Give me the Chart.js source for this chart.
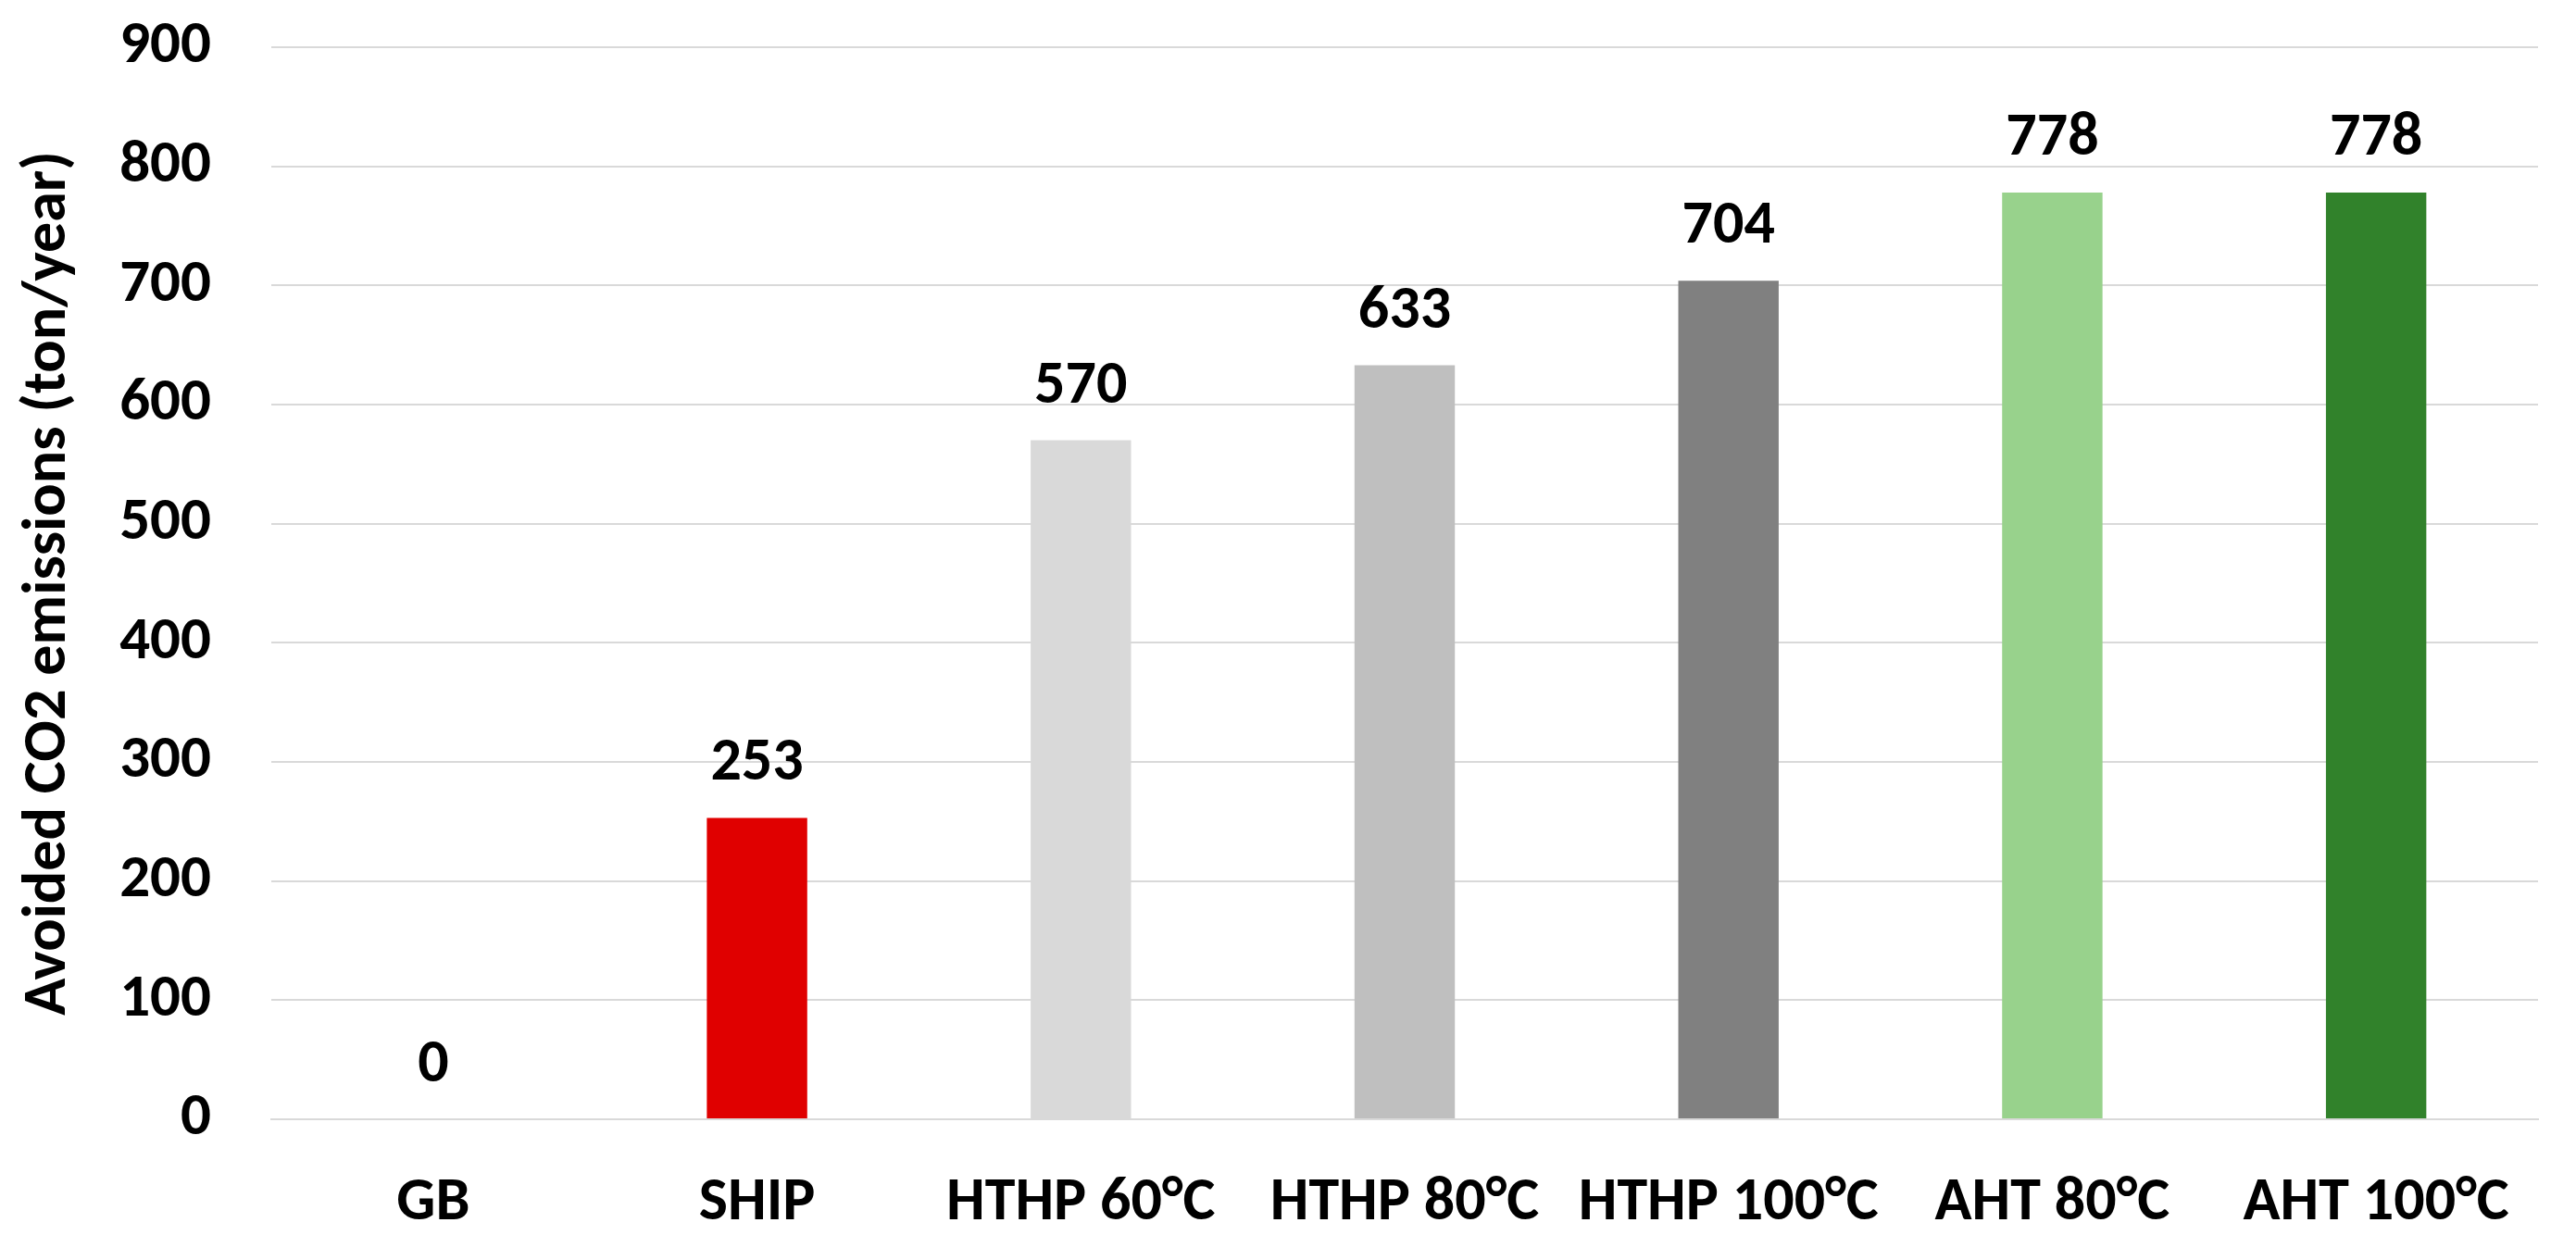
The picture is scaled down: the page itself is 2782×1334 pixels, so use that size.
<!DOCTYPE html>
<html>
<head>
<meta charset="utf-8">
<script src="https://cdn.jsdelivr.net/npm/chart.js@4/dist/chart.umd.min.js"></script>
<style>
  html, body { margin: 0; padding: 0; background: #ffffff; }
  #wrap { width: 2782px; height: 1334px; }
</style>
</head>
<body>
<div id="wrap"><canvas id="c" width="2782" height="1334"></canvas></div>
<script>
const categories = ["GB", "SHIP", "HTHP 60°C", "HTHP 80°C", "HTHP 100°C", "AHT 80°C", "AHT 100°C"];
const values = [0, 253, 570, 633, 704, 778, 778];
const barColors = ["#A6A6A6", "#E00000", "#D9D9D9", "#BFBFBF", "#808080", "#98D28C", "#31822B"];
const yTicks = [0, 100, 200, 300, 400, 500, 600, 700, 800, 900];
const yTitle = "Avoided CO2 emissions (ton/year)";

const fontFam = 'Carlito, "Open Sans", sans-serif';

const valueLabels = {
  id: 'valueLabels',
  afterDatasetsDraw(chart) {
    const ctx = chart.ctx;
    const meta = chart.getDatasetMeta(0);
    ctx.save();
    ctx.font = 'bold 66px ' + fontFam;
    ctx.fillStyle = '#000000';
    ctx.textAlign = 'center';
    ctx.textBaseline = 'alphabetic';
    meta.data.forEach((bar, i) => {
      ctx.fillText(String(values[i]), bar.x, bar.y - 41);
    });
    ctx.restore();
  }
};

new Chart(document.getElementById('c'), {
  type: 'bar',
  data: {
    labels: categories,
    datasets: [{
      data: values,
      backgroundColor: barColors,
      borderWidth: 0,
      categoryPercentage: 1,
      barPercentage: 0.31
    }]
  },
  options: {
    responsive: false,
    animation: false,
    devicePixelRatio: 1,
    layout: { padding: { left: 20, right: 41, top: 51, bottom: 0 } },
    plugins: { legend: { display: false }, tooltip: { enabled: false } },
    scales: {
      x: {
        grid: { display: false, drawTicks: false },
        border: { display: true, color: '#D9D9D9', width: 2 },
        ticks: {
          color: '#000000',
          padding: 52,
          maxRotation: 0,
          autoSkip: false,
          font: { family: fontFam, size: 66, weight: 'bold' }
        },
        afterFit(scale) {
          scale.height = 125;
          scale.paddingLeft = 0; scale.paddingRight = 0;
        }
      },
      y: {
        min: 0,
        max: 900,
        afterBuildTicks(scale) { scale.ticks = yTicks.map(v => ({ value: v })); },
        grid: { color: '#D9D9D9', lineWidth: 2, drawTicks: false },
        border: { display: false },
        ticks: {
          color: '#000000',
          padding: 65,
          font: { family: fontFam, size: 65, weight: 'bold' }
        },
        title: {
          display: true,
          text: yTitle,
          color: '#000000',
          padding: { top: 0, bottom: 0 },
          font: { family: fontFam, size: 66, weight: 'bold', lineHeight: 1.0 }
        },
        afterFit(scale) {
          scale.width = 273;
          scale.paddingTop = 0; scale.paddingBottom = 0;
        }
      }
    }
  },
  plugins: [valueLabels]
});
</script>
</body>
</html>
